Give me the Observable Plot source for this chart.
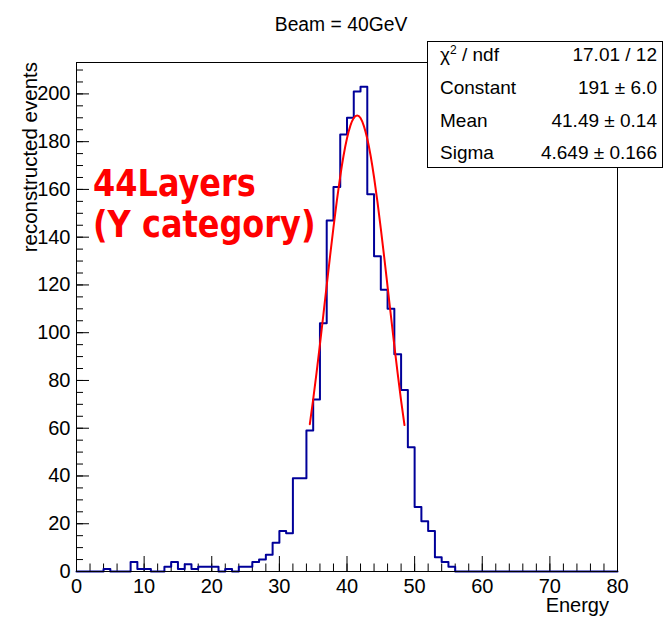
<!DOCTYPE html>
<html>
<head>
<meta charset="utf-8">
<script src="https://cdn.jsdelivr.net/npm/d3@7"></script>
<script src="https://cdn.jsdelivr.net/npm/@observablehq/plot@0.6"></script>
<style>
  html, body { margin: 0; padding: 0; background: #fff; }
  #wrap { position: relative; width: 664px; height: 618px; overflow: hidden; }
  #wrap svg { display: block; }
  #overlay { position: absolute; left: 0; top: 0; pointer-events: none; }
</style>
</head>
<body>
<div id="wrap"></div>
<script>
// ---- data ----
// histogram counts, bin i covers [i, i+1) GeV, 80 bins from 0 to 80
const counts = [
  0, 0, 0, 0, 1, 0, 0, 0, 4, 1,
  1, 0, 0, 2, 4, 1, 3, 1, 2, 2,
  2, 0, 1, 0, 2, 2, 4, 5, 7, 12,
  17, 16, 39, 39, 59, 72, 104, 147, 161, 183,
  190, 201, 203, 158, 132, 118, 110, 91, 76, 52,
  27, 21, 17, 6, 4, 2, 0, 0, 0, 0,
  0, 0, 0, 0, 0, 0, 0, 0, 0, 0,
  0, 0, 0, 0, 0, 0, 0, 0, 0, 0
];
const binLow = 0, binWidth = 1;

// red fit curve, points read along it
const fitX = [34.5, 35, 35.5, 36, 36.5, 37, 37.5, 38, 38.5, 39, 39.5, 40, 40.5, 41, 41.5,
              42, 42.5, 43, 43.5, 44, 44.5, 45, 45.5, 46, 46.5, 47, 47.5, 48, 48.5];
const fitY = [61.7, 72.1, 83.3, 95.1, 107.4, 119.8, 132.2, 144.1, 155.3, 165.5, 174.3, 181.4, 186.7, 189.9, 191.0,
              189.9, 186.5, 181.2, 174.0, 165.1, 154.9, 143.6, 131.7, 119.3, 106.9, 94.6, 82.8, 71.6, 61.3];

const xTickLabels = [0, 10, 20, 30, 40, 50, 60, 70, 80];
const yTickLabels = [0, 20, 40, 60, 80, 100, 120, 140, 160, 180, 200];
const xMinor = d3.range(0, 81, 2);
const yMinor = d3.range(0, 213, 5);
const xDomain = [0, 80];
const yDomain = [0, 213.15];

const titleText = "Beam = 40GeV";
const xLabel = "Energy";
const yLabel = "reconstructed events";
const annotation = ["44Layers", "(Y category)"];
const statsNames = ["ndf", "Constant", "Mean", "Sigma"];
const statsValues = ["17.01 / 12", "191 \u00b1 6.0", "41.49 \u00b1 0.14", "4.649 \u00b1 0.166"];

// ---- layout ----
const W = 664, H = 618;
const mL = 76, mR = 47, mT = 62, mB = 47;
const fw = W - mL - mR, fh = H - mT - mB;
const FONT = "'Liberation Sans', Arial, Helvetica, sans-serif";

const histPoints = d3.range(counts.length + 1).map(i => ({
  x: binLow + i * binWidth,
  y: counts[Math.min(i, counts.length - 1)]
}));
const fitPoints = fitX.map((x, i) => ({x, y: fitY[i]}));

const chart = Plot.plot({
  width: W,
  height: H,
  marginLeft: mL, marginRight: mR, marginTop: mT, marginBottom: mB,
  x: {domain: xDomain},
  y: {domain: yDomain},
  style: {fontFamily: FONT, background: "#fff", color: "#000"},
  marks: [
    Plot.ruleX(xMinor, {stroke: "#000", strokeWidth: 1, insetTop: fh - 7.5}),
    Plot.ruleX(xTickLabels, {stroke: "#000", strokeWidth: 1, insetTop: fh - 15}),
    Plot.ruleY(yMinor, {stroke: "#000", strokeWidth: 1, insetRight: fw - 7}),
    Plot.ruleY(yTickLabels, {stroke: "#000", strokeWidth: 1, insetRight: fw - 13}),
    Plot.line(histPoints, {x: "x", y: "y", curve: "step-after", stroke: "#000099", strokeWidth: 2}),
    Plot.line(fitPoints, {x: "x", y: "y", curve: "natural", stroke: "#ff0000", strokeWidth: 2}),
    Plot.frame({stroke: "#000", strokeWidth: 1}),
    Plot.axisX(xTickLabels, {tickSize: 0, tickPadding: 7, fontSize: 20, label: null, tickFormat: d => String(d)}),
    Plot.axisY(yTickLabels, {tickSize: 0, tickPadding: 6, fontSize: 20, label: null, tickFormat: d => String(d)})
  ]
});
const wrap = document.getElementById("wrap");
wrap.appendChild(chart);

// ---- overlay texts (title, stats box, axis titles, annotation) ----
const ov = d3.select(wrap).append("svg")
  .attr("id", "overlay").attr("width", W).attr("height", H)
  .style("font-family", FONT);

ov.append("text").attr("transform", "translate(341,31) scale(0.92,1)").attr("text-anchor", "middle")
  .attr("font-size", 21).text(titleText);

ov.append("text").attr("transform", "translate(37,62) rotate(-90)").attr("text-anchor", "end")
  .attr("font-size", 20.5).text(yLabel);

ov.append("text").attr("x", 609).attr("y", 612).attr("text-anchor", "end")
  .attr("font-size", 20).text(xLabel);

ov.append("rect").attr("x", 427.5).attr("y", 41.5).attr("width", 235).attr("height", 126)
  .attr("fill", "#fff").attr("stroke", "#000").attr("stroke-width", 1);

const rowY = [61, 94, 126.5, 159];
const chi = ov.append("text").attr("x", 440).attr("y", rowY[0]).attr("font-size", 19);
chi.append("tspan").text("\u03c7");
chi.append("tspan").attr("font-size", 12).attr("dy", -7).text("2");
chi.append("tspan").attr("dy", 7).text(" / " + statsNames[0]);
for (let i = 1; i < 4; i++) {
  ov.append("text").attr("x", 440).attr("y", rowY[i]).attr("font-size", 19).text(statsNames[i]);
}
for (let i = 0; i < 4; i++) {
  ov.append("text").attr("x", 657).attr("y", rowY[i]).attr("text-anchor", "end")
    .attr("font-size", 19).text(statsValues[i]);
}

ov.append("text").attr("transform", "translate(93,196) scale(1,1.15)").attr("fill", "#ff0000")
  .attr("font-family", "'DejaVu Sans', sans-serif").attr("font-weight", "bold")
  .attr("font-size", 32).text(annotation[0]);
ov.append("text").attr("transform", "translate(93,237) scale(1,1.15)").attr("fill", "#ff0000")
  .attr("font-family", "'DejaVu Sans', sans-serif").attr("font-weight", "bold")
  .attr("font-size", 32).text(annotation[1]);
</script>
</body>
</html>
